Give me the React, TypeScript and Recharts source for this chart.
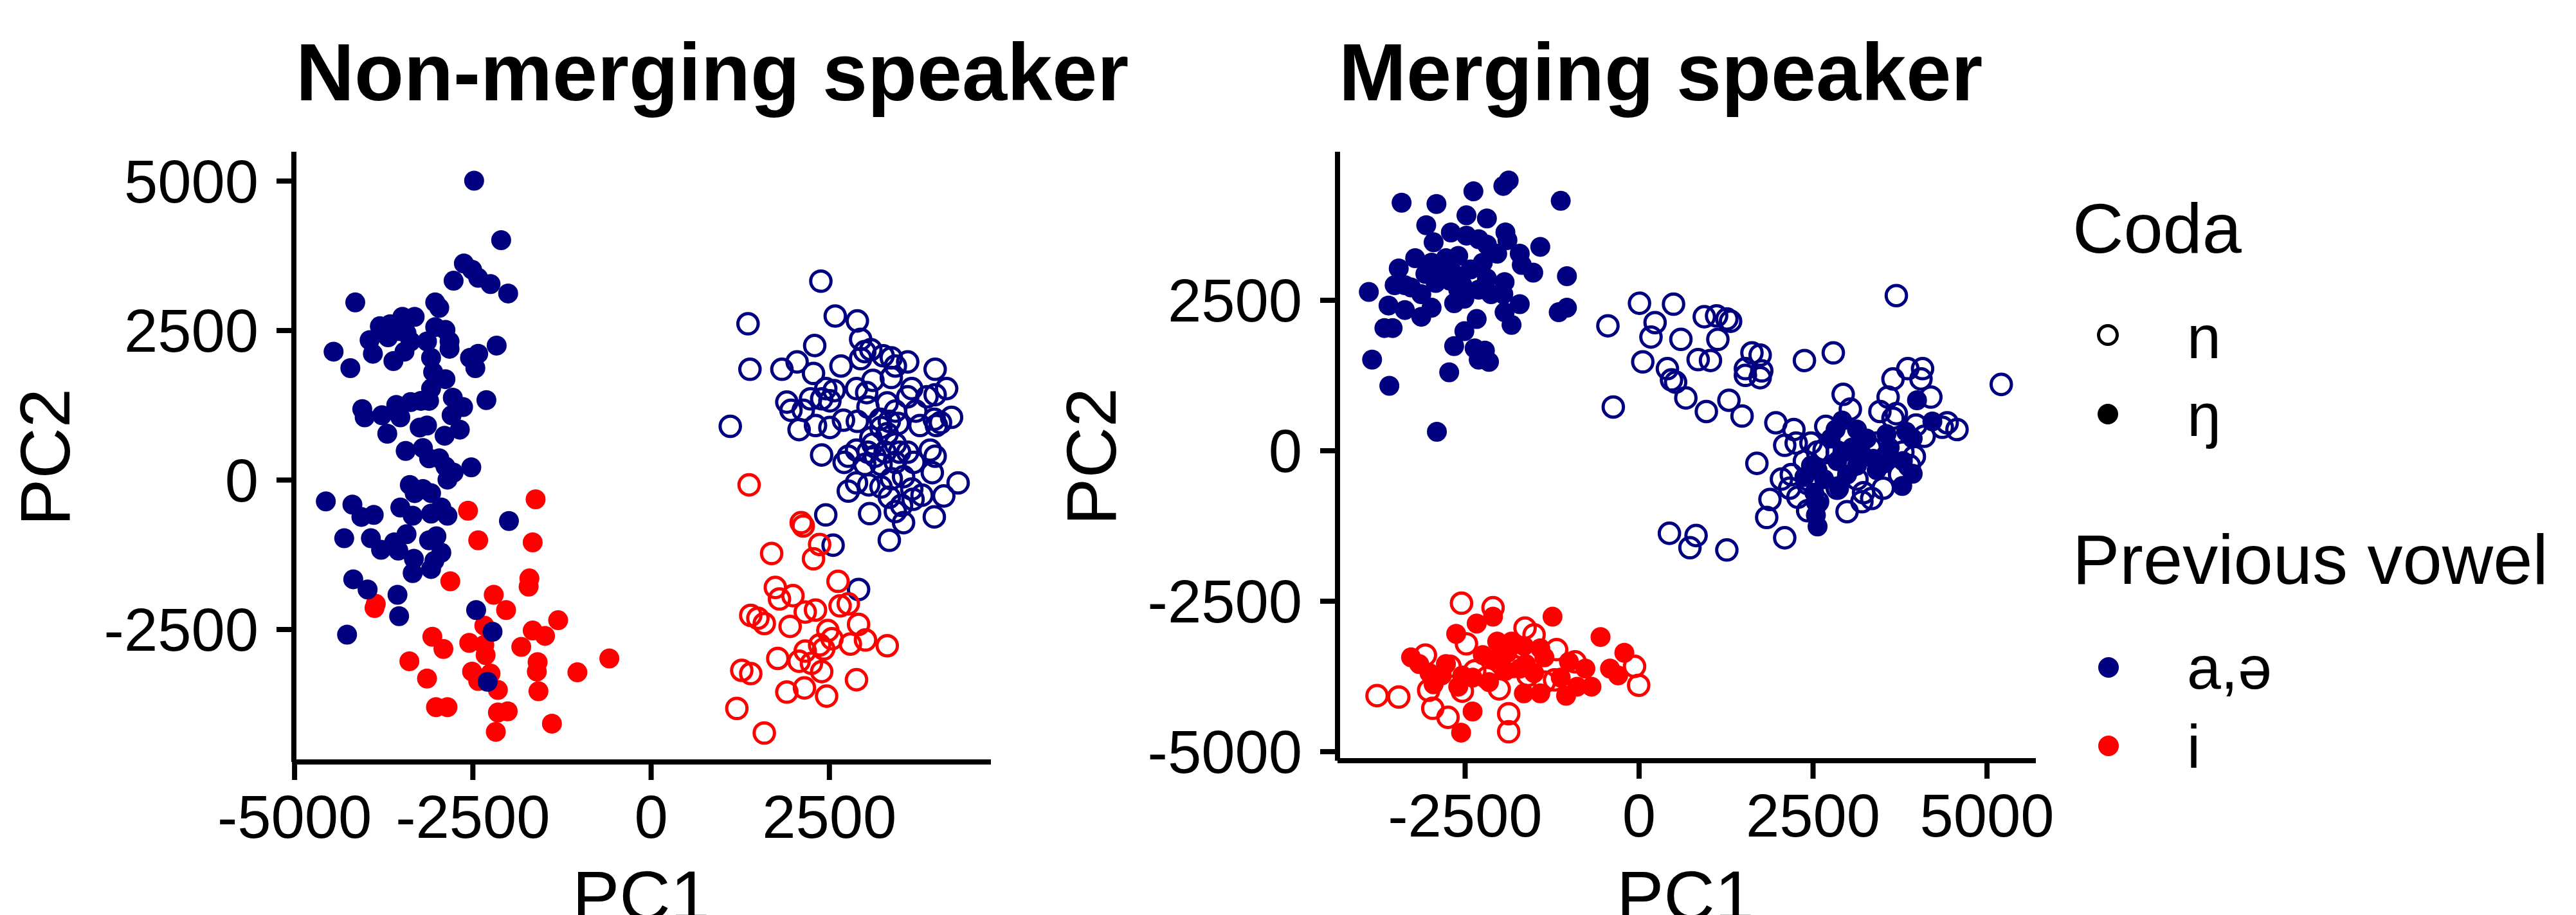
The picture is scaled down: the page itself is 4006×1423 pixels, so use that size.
import React from 'react';
import { ScatterChart, Scatter, XAxis, YAxis } from 'recharts';

type P = [number, number];

const NAVY = '#000080';
const RED = '#FF0000';
const FONT = '"Liberation Sans", Arial, "DejaVu Sans", sans-serif';

// ---------- Titles / labels ----------
const panelTitles = ['Non-merging speaker', 'Merging speaker'];
const xAxisTitle = 'PC1';
const yAxisTitle = 'PC2';
const codaTitle = 'Coda';
const codaLabels = ['n', 'ŋ'];
const vowelTitle = 'Previous vowel';
const vowelLabels = ['a,ə', 'i'];

// ---------- Ticks & domains ----------
const leftXTicks = [-5000, -2500, 0, 2500];
const leftYTicks = [-2500, 0, 2500, 5000];
const rightXTicks = [-2500, 0, 2500, 5000];
const rightYTicks = [-5000, -2500, 0, 2500];
const leftXDomain: [number, number] = [-5010, 4765];
const leftYDomain: [number, number] = [-4715, 5490];
const rightXDomain: [number, number] = [-4334, 5702];
const rightYDomain: [number, number] = [-5150, 4968];

// ---------- Non-merging speaker ----------
const leftNavyFilled: P[] = [
  [-2482,5006],[-2103,4012],[-2626,3621],[-2511,3518],[-2425,3381],[-2252,3278],[-2770,3333],[-2005,3120],[-4149,2970],[-3028,2970],[-2971,2880],[-3488,2729],[-3316,2729],[-3804,2572],[-3660,2606],[-3603,2524],[-3517,2489],[-3430,2455],[-3028,2558],[-2884,2510],[-3948,2339],[-3689,2387],[-3373,2318],[-3143,2318],[-2827,2318],[-2827,2195],[-2166,2249],[-4453,2147],[-3902,2112],[-3459,2147],[-3086,2044],[-2540,2044],[-2425,2112],[-3614,1989],[-4218,1872],[-2465,1872],[-3057,1804],[-2884,1687],[-3086,1529],[-2310,1337],[-2781,1378],[-2637,1221],[-4051,1186],[-3574,1255],[-3373,1303],[-3229,1324],[-3114,1324],[-4017,1049],[-3775,1084],[-3517,1049],[-2798,1084],[-3143,912],[-3246,878],[-3700,775],[-2896,741],[-2683,843],[-3442,487],[-3200,535],[-3114,363],[-2971,363],[-2884,226],[-2770,123],[-2856,7],[-2522,213],[-4562,-357],[-4189,-411],[-4063,-617],[-3890,-583],[-3384,-82],[-3316,-219],[-3200,-151],[-3086,-219],[-3517,-459],[-3344,-597],[-3086,-562],[-2942,-459],[-2856,-597],[-1994,-686],[-4304,-974],[-3930,-974],[-3787,-1166],[-3603,-1042],[-3430,-905],[-3545,-1180],[-3114,-1008],[-3011,-940],[-2942,-1214],[-3327,-1317],[-3040,-1351],[-3086,-1488],[-3344,-1557],[-4177,-1660],[-3976,-1831],[-3557,-1920],[-2454,-2174],[-3534,-2277],[-4264,-2585],[-2224,-2537],[-2293,-3374]
];
const leftRedFilled: P[] = [
  [-1620,-322],[-2568,-514],[-2425,-1008],[-1661,-1042],[-2816,-1694],[-1707,-1646],[-1718,-1783],[-3861,-2071],[-3879,-2140],[-2207,-1920],[-2034,-2174],[-2339,-2435],[-1304,-2345],[-1661,-2517],[-1488,-2606],[-3068,-2620],[-2913,-2825],[-2551,-2723],[-2339,-2757],[-1821,-2791],[-2321,-2928],[-586,-2983],[-3390,-3031],[-1592,-3045],[-1603,-3203],[-1034,-3216],[-3143,-3319],[-2511,-3203],[-2252,-3237],[-2425,-3360],[-2149,-3511],[-1580,-3532],[-3017,-3799],[-2856,-3799],[-2149,-3888],[-2011,-3868],[-1391,-4074],[-2178,-4211]
];
const leftNavyOpen: P[] = [
  [2380,3326],[2582,2743],[2892,2661],[1359,2613],[2938,2352],[2294,2249],[2996,2147],[3081,2181],[3253,2078],[3368,2044],[3598,1975],[3425,1907],[2047,1975],[1834,1852],[1386,1852],[2277,1783],[2662,1907],[3983,1852],[2938,2030],[3110,1667],[3368,1715],[4144,1529],[3983,1426],[3868,1392],[2880,1529],[3023,1461],[3655,1529],[2449,1529],[2565,1495],[1903,1303],[1961,1166],[2236,1358],[2133,1166],[2392,1358],[2507,1324],[3598,1392],[3311,1289],[3425,1152],[3712,1152],[3041,1221],[1110,898],[2075,843],[2305,912],[2507,878],[2697,1001],[2892,981],[3213,1015],[3340,981],[3465,946],[3770,912],[3971,1015],[4058,960],[4213,1049],[4000,912],[3081,706],[3311,775],[3425,603],[2391,418],[2765,398],[2707,295],[2880,501],[3041,466],[3138,398],[3224,261],[3425,295],[3598,466],[3684,295],[3914,501],[3983,398],[3943,123],[4305,-48],[2880,-48],[2765,-185],[3052,-82],[3224,-117],[3368,21],[3540,55],[3655,-151],[3799,-254],[4104,-267],[3340,-288],[3512,-425],[3673,-322],[3064,-562],[3425,-528],[3540,-713],[3971,-617],[2449,-583],[2552,-1090],[3340,-1008],[2909,-1831],[3224,878],[3110,603],[3282,466],[3483,466],[2996,261]
];
const leftRedOpen: P[] = [
  [1374,-82],[2104,-713],[2133,-768],[2363,-1077],[1690,-1228],[2277,-1317],[2621,-1694],[1742,-1797],[1989,-1934],[1800,-1989],[2161,-2208],[2305,-2174],[2650,-2105],[2765,-2071],[1397,-2263],[1497,-2311],[1587,-2400],[1949,-2448],[2478,-2517],[2536,-2654],[2909,-2414],[3006,-2675],[3311,-2771],[2794,-2743],[2363,-2757],[2161,-2860],[2420,-2825],[1776,-2983],[2075,-3031],[2248,-3066],[2392,-3203],[1271,-3182],[1397,-3237],[2880,-3340],[2150,-3477],[1903,-3546],[2461,-3614],[1202,-3820],[1587,-4231]
];

// ---------- Merging speaker ----------
const rightNavyFilled: P[] = [
  [-1874,4490],[-1951,4400],[-2381,4310],[-3413,4122],[-2912,4100],[-1126,4152],[-2481,3912],[-2187,3860],[-3059,3748],[-2705,3628],[-2481,3575],[-2305,3515],[-1921,3628],[-1892,3500],[-2953,3463],[-2187,3425],[-2039,3275],[-1420,3388],[-1715,3275],[-3218,3200],[-2982,3125],[-2776,3200],[-2599,3238],[-2422,3013],[-1686,3088],[-1521,2960],[-3454,3028],[-1037,2900],[-3366,2751],[-3513,2751],[-3071,2938],[-2923,2788],[-2717,2826],[-2599,2676],[-2305,2676],[-1933,2803],[-3884,2638],[-3277,2713],[-2511,2526],[-2128,2601],[-3601,2413],[-3366,2338],[-3130,2226],[-2982,2376],[-2658,2451],[-1933,2301],[-1715,2436],[-1155,2301],[-1037,2376],[-1833,2091],[-2334,2189],[-2511,1986],[-3660,2039],[-3542,2039],[-2658,1739],[-2363,1701],[-2216,1664],[-2305,1514],[-2157,1477],[-3837,1514],[-2729,1304],[-3589,1079],[-2906,315],[-2658,2938],[-2246,3125],[-2540,2751],[-2835,3050],[-1951,2601],[-2187,2863],[-3130,2601],
  [2919,502],[2824,352],[3131,352],[3994,839],[4215,487],[3838,315],[3932,202],[2470,-247],[2565,-322],[2659,-472],[2376,-435],[2518,-697],[2565,-884],[2541,-1072],[2565,-1259],[2848,-172],[2942,-22],[3060,52],[3202,-97],[3367,-135],[3532,-210],[3602,52],[3791,-172],[3932,-382],[3782,-585],[2989,-397],[3131,-247],[2871,-622],[3272,202],[3414,-322],[2754,202],[3555,277]
];
const rightNavyOpen: P[] = [
  [6,2451],[495,2436],[-448,2076],[230,2129],[171,1889],[601,1851],[937,2226],[1114,2241],[1261,2189],[1132,1851],[53,1477],[407,1364],[466,1177],[525,1139],[849,1514],[1026,1499],[672,877],[967,652],[-371,727],[1291,839],[436,-1372],[731,-1611],[819,-1409],[1261,-1649],
  [1315,2151],[1480,577],[1528,1364],[1622,1626],[1740,1589],[1528,1252],[1763,1327],[1740,1214],[2376,1499],[2791,1626],[3697,2578],[5205,1102],[2933,937],[3036,690],[1966,465],[2225,352],[2683,405],[1693,-210],[2093,90],[2258,127],[2470,127],[2565,-22],[2046,-472],[2164,-622],[2282,-772],[1881,-809],[1834,-1109],[2093,-1447],[2989,-1012],[3343,-794],[3202,-847],[3649,1192],[3862,1364],[4074,1364],[4051,1192],[4193,892],[3579,892],[3697,615],[3461,652],[3649,540],[3980,427],[4097,240],[4357,390],[4428,465],[4569,352],[2659,15],[2848,-22],[3320,52],[3556,-97],[3791,-22],[3956,-97],[2188,-397],[2423,-547],[2565,-847],[2848,-622],[3131,-472],[3508,-622],[3744,-397],[3885,-247],[2376,-172],[2730,-360],[3060,-247],[3414,127],[3226,-697],[2423,-997]
];
const rightRedFilled: P[] = [
  [-1244,-2758],[-2334,-2871],[-2099,-2758],[-2629,-3043],[-554,-3095],[-2039,-3170],[-1833,-3170],[-1656,-3245],[-1420,-3283],[-1361,-3433],[-3277,-3433],[-3160,-3545],[-2776,-3545],[-2246,-3395],[-2099,-3470],[-1627,-3545],[-1008,-3508],[-772,-3620],[-212,-3358],[-418,-3620],[-301,-3733],[-3012,-3695],[-2835,-3733],[-2540,-3733],[-2393,-3770],[-1921,-3658],[-1715,-3620],[-1509,-3695],[-1126,-3770],[-2953,-3882],[-2599,-3920],[-2157,-3845],[-1656,-4032],[-1420,-4032],[-1049,-4070],[-684,-3920],[-2393,-4332],[-2558,-4684],[-890,-3920],[-1892,-3358]
];
const rightRedOpen: P[] = [
  [-2552,-2533],[-2099,-2608],[-1639,-2946],[-1509,-3058],[-2481,-3208],[-1185,-3305],[-3071,-3395],[-1745,-3433],[-919,-3508],[-65,-3583],[-2717,-3583],[-2363,-3658],[-1804,-3583],[-1214,-3808],[-1361,-3845],[-6,-3897],[-3766,-4070],[-3454,-4092],[-3024,-3980],[-2540,-3995],[-2010,-3957],[-2965,-4280],[-2746,-4430],[-1874,-4370],[-1874,-4669],[-2187,-3770],[-1597,-3733]
];

const toPts = (a: P[]) => a.map(([x, y]) => ({ x, y }));

const filledShape = (color: string) => (props: any) => (
  <circle cx={props.cx} cy={props.cy} r={15.5} fill={color} />
);
const openShape = (color: string) => (props: any) => (
  <circle cx={props.cx} cy={props.cy} r={15.8} fill="none" stroke={color} strokeWidth={5} />
);

const tickStyle = { fill: '#000', fontSize: 94, fontFamily: FONT };
const lineStyle = { stroke: '#000', strokeWidth: 8 };

type Series = { data: P[]; color: string; open: boolean; name: string };

function Panel(props: {
  left: number; width: number; yAxisW: number; rightM: number; top: number; xAxisH: number;
  xDomain: [number, number]; yDomain: [number, number]; xTicks: number[]; yTicks: number[];
  series: Series[];
}) {
  const { left, width, yAxisW, rightM, top, xAxisH, xDomain, yDomain, xTicks, yTicks, series } = props;
  return (
    <div style={{ position: 'absolute', left, top: 0 }}>
      <ScatterChart width={width} height={1423} margin={{ top, right: rightM, bottom: 0, left: 0 }}>
        <XAxis
          type="number" dataKey="x" domain={xDomain} ticks={xTicks} allowDataOverflow interval={0}
          height={xAxisH} tickSize={28} tickMargin={23} tick={tickStyle} axisLine={lineStyle} tickLine={lineStyle}
        />
        <YAxis
          type="number" dataKey="y" domain={yDomain} ticks={yTicks} allowDataOverflow interval={0}
          width={yAxisW} tickSize={27} tickMargin={28} tick={tickStyle} axisLine={lineStyle} tickLine={lineStyle}
        />
        {series.map((s) => (
          <Scatter
            key={s.name}
            name={s.name}
            data={toPts(s.data)}
            isAnimationActive={false}
            shape={s.open ? openShape(s.color) : filledShape(s.color)}
          />
        ))}
      </ScatterChart>
    </div>
  );
}

export default function App() {
  return (
    <div style={{ position: 'absolute', left: 0, top: 0, width: 4006, height: 1423, background: '#fff', overflow: 'hidden' }}>
      <Panel
        left={0} width={1720} yAxisW={457} rightM={179} top={236} xAxisH={238}
        xDomain={leftXDomain} yDomain={leftYDomain} xTicks={leftXTicks} yTicks={leftYTicks}
        series={[
          { name: 'ln-navy', data: leftNavyOpen, color: NAVY, open: true },
          { name: 'ln-red', data: leftRedOpen, color: RED, open: true },
          { name: 'lf-red', data: leftRedFilled, color: RED, open: false },
          { name: 'lf-navy', data: leftNavyFilled, color: NAVY, open: false },
        ]}
      />
      <Panel
        left={1720} width={1500} yAxisW={360} rightM={54} top={236} xAxisH={240}
        xDomain={rightXDomain} yDomain={rightYDomain} xTicks={rightXTicks} yTicks={rightYTicks}
        series={[
          { name: 'rn-navy', data: rightNavyOpen, color: NAVY, open: true },
          { name: 'rf-navy', data: rightNavyFilled, color: NAVY, open: false },
          { name: 'rn-red', data: rightRedOpen, color: RED, open: true },
          { name: 'rf-red', data: rightRedFilled, color: RED, open: false },
        ]}
      />
      <svg width={4006} height={1423} style={{ position: 'absolute', left: 0, top: 0, pointerEvents: 'none' }}>
        <g fontFamily={FONT} fill="#000">
          <text x={460} y={156} fontSize={126} fontWeight="bold">{panelTitles[0]}</text>
          <text x={2082} y={156} fontSize={126} fontWeight="bold">{panelTitles[1]}</text>
          <text x={997} y={1431} fontSize={110} textAnchor="middle">{xAxisTitle}</text>
          <text x={2621} y={1431} fontSize={110} textAnchor="middle">{xAxisTitle}</text>
          <text transform="translate(108,711) rotate(-90)" fontSize={110} textAnchor="middle">{yAxisTitle}</text>
          <text transform="translate(1735,710) rotate(-90)" fontSize={110} textAnchor="middle">{yAxisTitle}</text>

          <text x={3223} y={393} fontSize={110}>{codaTitle}</text>
          <circle cx={3278} cy={521} r={14.5} fill="none" stroke="#000" strokeWidth={5} />
          <text x={3401} y={557} fontSize={95}>{codaLabels[0]}</text>
          <circle cx={3278} cy={644} r={16} fill="#000" />
          <text x={3401} y={678} fontSize={95}>{codaLabels[1]}</text>

          <text x={3223} y={908} fontSize={110}>{vowelTitle}</text>
          <circle cx={3279} cy={1038} r={16} fill={NAVY} />
          <text x={3401} y={1071} fontSize={95}>{vowelLabels[0]}</text>
          <circle cx={3279} cy={1160} r={16} fill={RED} />
          <text x={3401} y={1194} fontSize={95}>{vowelLabels[1]}</text>
        </g>
      </svg>
    </div>
  );
}
